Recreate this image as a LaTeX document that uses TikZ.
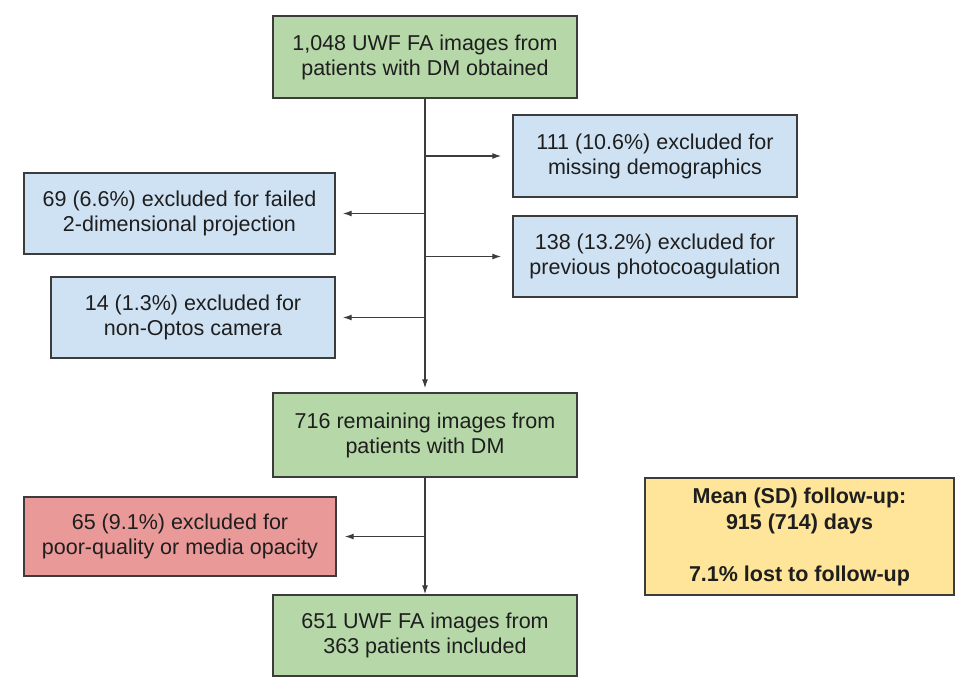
\documentclass[tikz,border=0pt]{standalone}
\usepackage{fontspec}
\setmainfont{Liberation Sans}
\usetikzlibrary{arrows.meta}
\definecolor{boxgreen}{HTML}{B6D7A8}
\definecolor{boxblue}{HTML}{CFE2F3}
\definecolor{boxred}{HTML}{EA9999}
\definecolor{boxyellow}{HTML}{FFE599}
\definecolor{edgegray}{HTML}{3C3C3C}
\definecolor{inkdark}{HTML}{1E1E1E}
\tikzset{
  flowbox/.style={draw=edgegray, line width=1.4pt, rectangle, inner sep=0pt,
    align=center, text=inkdark, font=\fontsize{21.5}{25}\selectfont},
  greenbox/.style={flowbox, fill=boxgreen},
  bluebox/.style={flowbox, fill=boxblue},
  redbox/.style={flowbox, fill=boxred},
  notebox/.style={flowbox, fill=boxyellow, font=\fontsize{21.5}{26}\selectfont\bfseries},
  flowarrow/.style={draw=edgegray, line width=1.3pt, -{Latex[length=9pt,width=6pt]}},
}
\begin{document}
\begin{tikzpicture}[x=1pt, y=-1pt]
\useasboundingbox (0,0) rectangle (955,677);
\fill[white] (0,0) rectangle (955,677);

% main stream
\node[greenbox, minimum width=304pt, minimum height=82pt] (top) at (425,57)
  {1,048 UWF FA images from\\patients with DM obtained};
\node[greenbox, minimum width=304pt, minimum height=84pt] (mid) at (425,435)
  {716 remaining images from\\patients with DM};
\node[greenbox, minimum width=304pt, minimum height=81pt] (bot) at (425,635.5)
  {651 UWF FA images from\\363 patients included};

% exclusions
\node[bluebox, minimum width=284pt, minimum height=82pt] (b1) at (655,156)
  {111 (10.6\%) excluded for\\missing demographics};
\node[bluebox, minimum width=284pt, minimum height=81pt] (b2) at (655,256.5)
  {138 (13.2\%) excluded for\\previous photocoagulation};
\node[bluebox, minimum width=311pt, minimum height=81pt] (l1) at (179.5,213.5)
  {69 (6.6\%) excluded for failed\\2-dimensional projection};
\node[bluebox, minimum width=284pt, minimum height=81pt] (l2) at (193,317.5)
  {14 (1.3\%) excluded for\\non-Optos camera};
\node[redbox, minimum width=312pt, minimum height=79pt] (rd) at (180,536.5)
  {65 (9.1\%) excluded for\\poor-quality or media opacity};

% follow-up summary
\node[notebox, minimum width=309pt, minimum height=117pt] (fu) at (799.5,536.5)
  {Mean (SD) follow-up:\\915 (714) days\\[26pt]7.1\% lost to follow-up};

% connectors
\draw[flowarrow, shorten >=4pt] (top.south) -- (top.south |- mid.north);
\draw[flowarrow] (mid.south) -- (mid.south |- bot.north);
\draw[flowarrow, shorten >=11pt] (top.south |- b1.west) -- (b1.west);
\draw[flowarrow, shorten >=11pt] (top.south |- b2.west) -- (b2.west);
\draw[flowarrow, shorten >=7pt] (top.south |- l1.east) -- (l1.east);
\draw[flowarrow, shorten >=7pt] (top.south |- l2.east) -- (l2.east);
\draw[flowarrow, shorten >=8pt] (mid.south |- rd.east) -- (rd.east);
\end{tikzpicture}
\end{document}
